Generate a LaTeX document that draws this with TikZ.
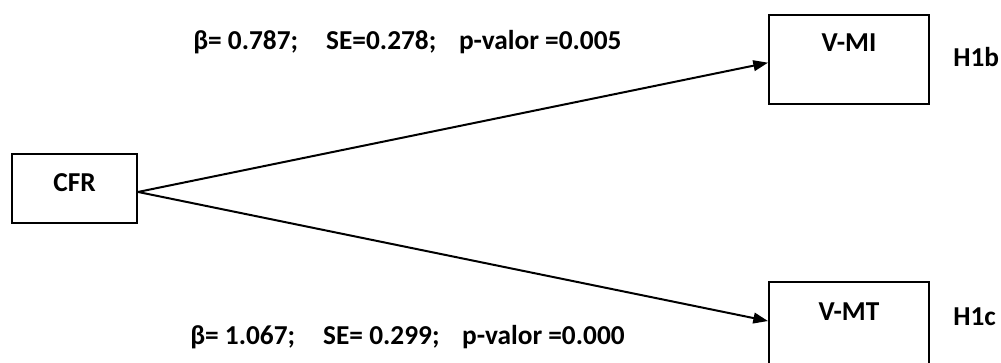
\documentclass[tikz,border=0pt]{standalone}
\usepackage{fontspec}
\setmainfont{Carlito}
\usetikzlibrary{arrows.meta,positioning}

\begin{document}
\begin{tikzpicture}[x=0.75pt,y=-0.75pt]
\tikzset{
  varbox/.style={draw,line width=1.5pt,minimum width=120pt,minimum height=66.75pt,inner sep=0pt},
  lbl/.style={font=\fontsize{20.5}{25}\selectfont\bfseries,inner sep=0pt},
  path/.style={-{Triangle[length=11pt,width=8pt]},line width=1.5pt}
}
\useasboundingbox (0,0) rectangle (1001,363);
\node[varbox,minimum width=93.75pt,minimum height=51.75pt] (cfr) at (74.5,188.5) {};
\node[varbox] (vmi) at (849,59.5) {};
\node[varbox] (vmt) at (849,326.5) {};
\node[lbl] (t_cfr) at (74.5,183) {CFR};
\node[lbl] (t_vmi) at (849,43) {V-MI};
\node[lbl] (t_vmt) at (849,312) {V-MT};
\node[lbl,anchor=west] (h1b) at (953,57) {H1b};
\node[lbl,anchor=west] (h1c) at (953,317) {H1c};
\node[lbl,anchor=west] (est_b) at (193,42) {β= 0.787;\hspace{21pt}SE=0.278;\hspace{17pt}p-valor =0.005};
\node[lbl,anchor=west] (est_c) at (190,337) {β= 1.067;\hspace{21pt}SE= 0.299;\hspace{17pt}p-valor =0.000};
\coordinate (src) at ([yshift=-2.6pt]cfr.east);
\draw[path] (src) -- ([yshift=-2.4pt]vmi.west);
\draw[path] (src) -- ([yshift=4.1pt]vmt.west);
\end{tikzpicture}
\end{document}
